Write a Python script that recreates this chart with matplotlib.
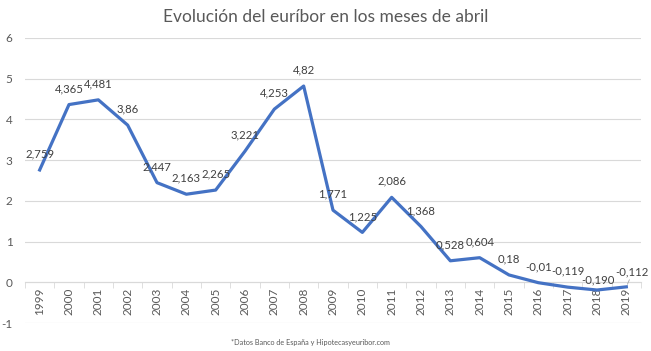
import numpy as np
import matplotlib
matplotlib.use("Agg")
import matplotlib.pyplot as plt
from matplotlib.ticker import FixedLocator

years = [str(y) for y in range(1999, 2020)]
euribor = [2.759, 4.365, 4.481, 3.86, 2.447, 2.163, 2.265, 3.221, 4.253, 4.82,
           1.771, 1.225, 2.086, 1.368, 0.528, 0.604, 0.18, -0.01, -0.119, -0.190, -0.112]
labels = ["2,759", "4,365", "4,481", "3,86", "2,447", "2,163", "2,265", "3,221", "4,253", "4,82",
          "1,771", "1,225", "2,086", "1,368", "0,528", "0,604", "0,18", "-0,01", "-0,119", "-0,190", "-0,112"]
yticks = [-1, 0, 1, 2, 3, 4, 5, 6]

plt.rcParams['font.family'] = ['Lato', 'DejaVu Sans']

fig = plt.figure(figsize=(6.51, 3.51), dpi=100)
ax = fig.add_axes([25/651, 28/351, 616/651, 285/351])

x = np.arange(len(years))
ax.plot(x, euribor, color="#4472C4", lw=2.3, solid_joinstyle="round", zorder=3)

# label offsets in points (dx, dy), most sit straight above the point
offsets = {len(years) - 2: (1, 7), len(years) - 1: (4, 11)}
for i, (v, t) in enumerate(zip(euribor, labels)):
    dx, dy = offsets.get(i, (0, 11.5))
    ax.annotate(t, (i, v), xytext=(dx, dy), textcoords="offset points",
                ha="center", va="center", fontsize=8.2, color="#404040", zorder=4)
# leader line for the last label
ax.annotate("", (x[-1], euribor[-1]), xytext=(3, 7), textcoords="offset points",
            arrowprops=dict(arrowstyle="-", color="#A6A6A6", lw=0.6))

ax.set_xlim(-0.5, len(years) - 0.5)
ax.set_ylim(-1, 6)
ax.set_yticks(yticks)
ax.set_yticklabels([str(v) for v in yticks])
ax.grid(axis="y", color="#D9D9D9", lw=0.8)
ax.set_axisbelow(True)

ax.spines['bottom'].set_position(('data', 0))
ax.spines['bottom'].set_color("#D9D9D9")
for s in ['top', 'right', 'left']:
    ax.spines[s].set_visible(False)

ax.set_xticks(x)
ax.set_xticklabels(years, rotation=90, fontsize=8.5, color="#595959")
ax.xaxis.set_minor_locator(FixedLocator(np.arange(-0.5, len(years), 1)))
ax.tick_params(axis="x", which="major", length=0, pad=4)
ax.tick_params(axis="x", which="minor", length=4, color="#D9D9D9")
ax.tick_params(axis="y", length=0, pad=9, labelsize=8.5, labelcolor="#595959")

fig.text(0.5, 1 - 17/351, "Evolución del euríbor en los meses de abril",
         ha="center", va="center", fontsize=12.5, color="#595959")
fig.text(310/651, 1 - 343/351, "*Datos Banco de España y Hipotecasyeuribor.com",
         ha="center", va="center", fontsize=5.2, color="#595959")

fig.savefig("out.png", dpi=100)
